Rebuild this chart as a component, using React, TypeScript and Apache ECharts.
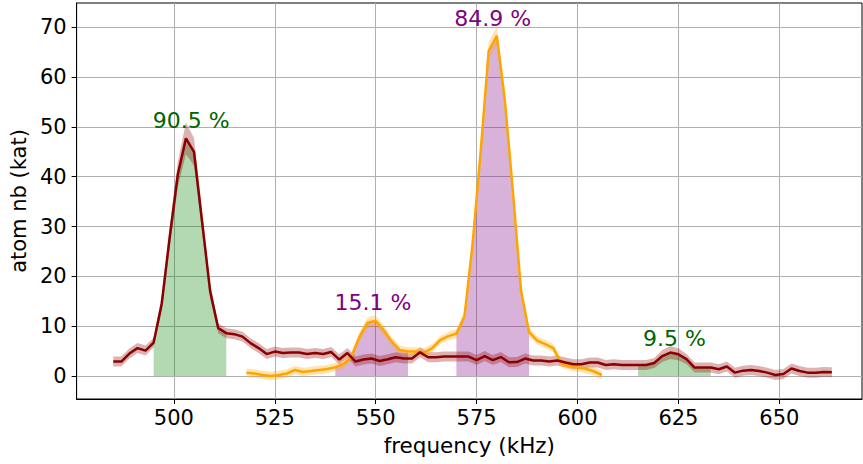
import React, { useEffect, useRef } from "react";
import * as echarts from "echarts";

// ---- data ----
const redFreq = [
  485, 487, 489, 491, 493, 495, 497, 499, 501, 503, 505, 507, 509, 511, 513, 515, 517, 519, 521, 523,
  525, 527, 529, 531, 533, 535, 537, 539, 541, 543, 545, 547, 549, 551, 553, 555, 557, 559, 561, 563,
  565, 567, 569, 571, 573, 575, 577, 579, 581, 583, 585, 587, 589, 591, 593, 595, 597, 599, 601, 603,
  605, 607, 609, 611, 613, 615, 617, 619, 621, 623, 625, 627, 629, 631, 633, 635, 637, 639, 641, 643,
  645, 647, 649, 651, 653, 655, 657, 659, 661, 663,
];
const redAtoms = [
  2.9, 2.9, 4.5, 5.6, 5.1, 6.7, 14.5, 28, 40.5, 47.7, 45.0, 31, 17, 9.6, 8.6, 8.4, 7.9, 6.6, 5.6, 4.4,
  4.9, 4.6, 4.7, 4.7, 4.4, 4.6, 4.4, 4.8, 3.3, 4.6, 2.9, 3.3, 3.5, 3.0, 3.35, 3.75, 3.5, 3.5, 4.75, 3.75,
  3.75, 3.9, 3.9, 3.9, 3.9, 3.2, 4.0, 3.2, 3.8, 2.75, 2.8, 3.5, 3.1, 3.1, 2.9, 3.1, 2.7, 2.35, 2.35, 2.7,
  2.7, 2.2, 2.35, 2.2, 2.2, 2.2, 2.2, 2.6, 4.0, 4.7, 4.35, 3.4, 1.7, 1.7, 1.7, 1.35, 1.9, 0.67, 1.07, 1.2,
  1.0, 0.67, 0.2, 0.4, 1.5, 1.0, 0.67, 0.67, 0.8, 0.75,
];
const redErr = [
  1.0, 1.0, 1.0, 1.0, 1.0, 1.0, 1.5, 2.0, 2.5, 3.2, 2.8, 2.0, 1.5, 1.0, 1.0, 1.0, 1.0, 1.0, 1.0, 1.0,
  1.0, 1.0, 1.0, 1.0, 1.0, 1.0, 1.0, 1.0, 1.0, 1.0, 1.0, 1.0, 1.0, 1.0, 1.0, 1.0, 1.0, 1.0, 1.0, 1.0,
  1.0, 1.0, 1.0, 1.0, 1.0, 1.0, 1.0, 1.0, 1.0, 1.0, 1.0, 1.0, 1.0, 1.0, 1.0, 1.0, 1.0, 1.0, 1.0, 1.0,
  1.0, 1.0, 1.0, 1.0, 1.0, 1.0, 1.0, 1.0, 1.2, 1.3, 1.2, 1.0, 1.0, 1.0, 1.0, 1.0, 1.0, 1.0, 1.0, 1.0,
  1.0, 1.0, 1.0, 1.0, 1.0, 1.0, 1.0, 1.0, 1.0, 1.0,
];

const orangeFreq = [
  518, 520, 522, 524, 526, 528, 530, 532, 534, 536, 538, 540, 542, 544, 546, 548, 550, 552, 554, 556,
  558, 560, 562, 564, 566, 568, 570, 572, 574, 576, 578, 580, 582, 584, 586, 588, 590, 592, 594, 596,
  598, 600, 602, 604, 606,
];
const orangeAtoms = [
  0.67, 0.5, 0.2, 0.0, 0.2, 0.5, 1.2, 0.8, 1.0, 1.2, 1.4, 1.75, 2.4, 3.9, 7.9, 10.7, 11.1, 9.2, 6.9, 5.2,
  4.9, 4.9, 4.7, 5.6, 7.2, 8.0, 8.5, 12.0, 26.5, 45, 65.3, 68.3, 55.4, 37, 17.2, 8.8, 7.1, 6.4, 5.6, 2.5,
  2.0, 1.7, 1.45, 0.95, 0.2,
];
const orangeErr = [
  0.85, 0.85, 0.85, 0.85, 0.85, 0.85, 0.85, 0.85, 0.85, 0.85, 0.85, 0.85, 0.85, 0.9, 1.0, 1.1, 1.1, 1.0, 0.9, 0.85,
  0.85, 0.85, 0.85, 0.85, 0.85, 0.85, 0.9, 1.0, 1.2, 1.5, 1.8, 1.9, 1.6, 1.3, 1.1, 0.9, 0.85, 0.85, 0.85, 0.85,
  0.85, 0.85, 0.85, 0.85, 0.85,
];

const greenRanges = [
  [495, 513],
  [615, 633],
];
const purpleRanges = [
  [540, 558],
  [570, 588],
];

const annTexts = ["90.5 %", "15.1 %", "84.9 %", "9.5 %"];
const annFreq = [504.3, 549.3, 579, 624];
const annAtoms = [51.3, 14.8, 71.8, 7.6];
const annGroup = ["green", "purple", "purple", "green"];

const xTicks = [500, 525, 550, 575, 600, 625, 650];
const yTicks = [0, 10, 20, 30, 40, 50, 60, 70];

const FONT = "DejaVu Sans";

function pairs(xs: number[], ys: number[]) {
  return xs.map((x, i) => [x, ys[i]]);
}
function subset(xs: number[], ys: number[], lo: number, hi: number) {
  const out: number[][] = [];
  xs.forEach((x, i) => {
    if (x >= lo && x <= hi) out.push([x, ys[i]]);
  });
  return out;
}

function bandSeries(xs: number[], ys: number[], es: number[], color: string) {
  return {
    type: "custom",
    coordinateSystem: "cartesian2d",
    data: pairs(xs, ys),
    encode: { x: 0, y: 1 },
    clip: true,
    z: 2,
    silent: true,
    renderItem: (params: any, api: any) => {
      if (params.dataIndex !== 0) return null;
      const upper = xs.map((x, i) => api.coord([x, ys[i] + es[i]]));
      const lower = xs.map((x, i) => api.coord([x, ys[i] - es[i]])).reverse();
      return {
        type: "polygon",
        shape: { points: upper.concat(lower) },
        style: { fill: color, stroke: "none" },
      };
    },
  };
}

export default function App() {
  const ref = useRef<HTMLDivElement>(null);
  useEffect(() => {
    if (!ref.current) return;
    const chart = echarts.init(ref.current, undefined, { renderer: "svg" });

    const fillSeries: any[] = [];
    greenRanges.forEach(([lo, hi]) => {
      fillSeries.push({
        type: "line",
        data: subset(redFreq, redAtoms, lo, hi),
        symbol: "none",
        lineStyle: { width: 0, opacity: 0 },
        areaStyle: { color: "rgba(0,128,0,0.3)", opacity: 1, origin: 0 },
        z: 1,
        silent: true,
      });
    });
    purpleRanges.forEach(([lo, hi]) => {
      fillSeries.push({
        type: "line",
        data: subset(orangeFreq, orangeAtoms, lo, hi),
        symbol: "none",
        lineStyle: { width: 0, opacity: 0 },
        areaStyle: { color: "rgba(128,0,128,0.3)", opacity: 1, origin: 0 },
        z: 1,
        silent: true,
      });
    });

    const annColor: Record<string, string> = { green: "#006400", purple: "#800080" };

    chart.setOption({
      animation: false,
      backgroundColor: "#ffffff",
      grid: {
        left: 76,
        top: 3,
        width: 786,
        height: 396,
        show: true,
        borderColor: "#000000",
        borderWidth: 1,
        backgroundColor: "transparent",
      },
      xAxis: {
        type: "value",
        min: 475.92,
        max: 670.47,
        minInterval: 25,
        maxInterval: 25,
        name: "frequency (kHz)",
        nameLocation: "middle",
        nameGap: 35,
        nameTextStyle: { fontFamily: FONT, fontSize: 21.5, color: "#000" },
        axisLine: { show: true, onZero: false, lineStyle: { color: "#000", width: 1 } },
        axisTick: { show: true, length: 5, inside: false, customValues: xTicks, lineStyle: { color: "#000" } },
        axisLabel: {
          show: true,
          customValues: xTicks,
          margin: 8,
          fontFamily: FONT,
          fontSize: 21,
          color: "#000",
        },
        splitLine: { show: true, lineStyle: { color: "#b0b0b0", width: 1 } },
      },
      yAxis: {
        type: "value",
        min: -4.62,
        max: 74.88,
        minInterval: 10,
        maxInterval: 10,
        name: "atom nb (kat)",
        nameLocation: "middle",
        nameGap: 43,
        nameTextStyle: { fontFamily: FONT, fontSize: 21, color: "#000" },
        axisLine: { show: true, onZero: false, lineStyle: { color: "#000", width: 1 } },
        axisTick: { show: true, length: 5, inside: false, customValues: yTicks, lineStyle: { color: "#000" } },
        axisLabel: {
          show: true,
          customValues: yTicks,
          margin: 10,
          fontFamily: FONT,
          fontSize: 21,
          color: "#000",
        },
        splitLine: { show: true, lineStyle: { color: "#b0b0b0", width: 1 } },
      },
      series: [
        ...fillSeries,
        bandSeries(redFreq, redAtoms, redErr, "rgba(139,0,0,0.3)"),
        bandSeries(orangeFreq, orangeAtoms, orangeErr, "rgba(255,165,0,0.3)"),
        {
          type: "line",
          data: pairs(orangeFreq, orangeAtoms),
          symbol: "none",
          lineStyle: { color: "#ffa500", width: 2.5 },
          z: 4,
          silent: true,
        },
        {
          type: "line",
          data: pairs(redFreq, redAtoms),
          symbol: "none",
          lineStyle: { color: "#8b0000", width: 2.5 },
          z: 4,
          silent: true,
        },
        {
          type: "scatter",
          symbolSize: 1,
          itemStyle: { color: "rgba(0,0,0,0)" },
          z: 6,
          silent: true,
          data: annTexts.map((t, i) => ({
            value: [annFreq[i], annAtoms[i]],
            label: {
              show: true,
              position: "inside",
              formatter: t,
              color: annColor[annGroup[i]],
              opacity: 1,
              textBorderWidth: 0,
              textBorderColor: "transparent",
              fontFamily: FONT,
              fontSize: 22,
            },
          })),
        },
      ],
    });
    return () => chart.dispose();
  }, []);

  return (
    <div
      ref={ref}
      style={{ position: "fixed", left: 0, top: 0, width: 863, height: 464, background: "#fff" }}
    />
  );
}
